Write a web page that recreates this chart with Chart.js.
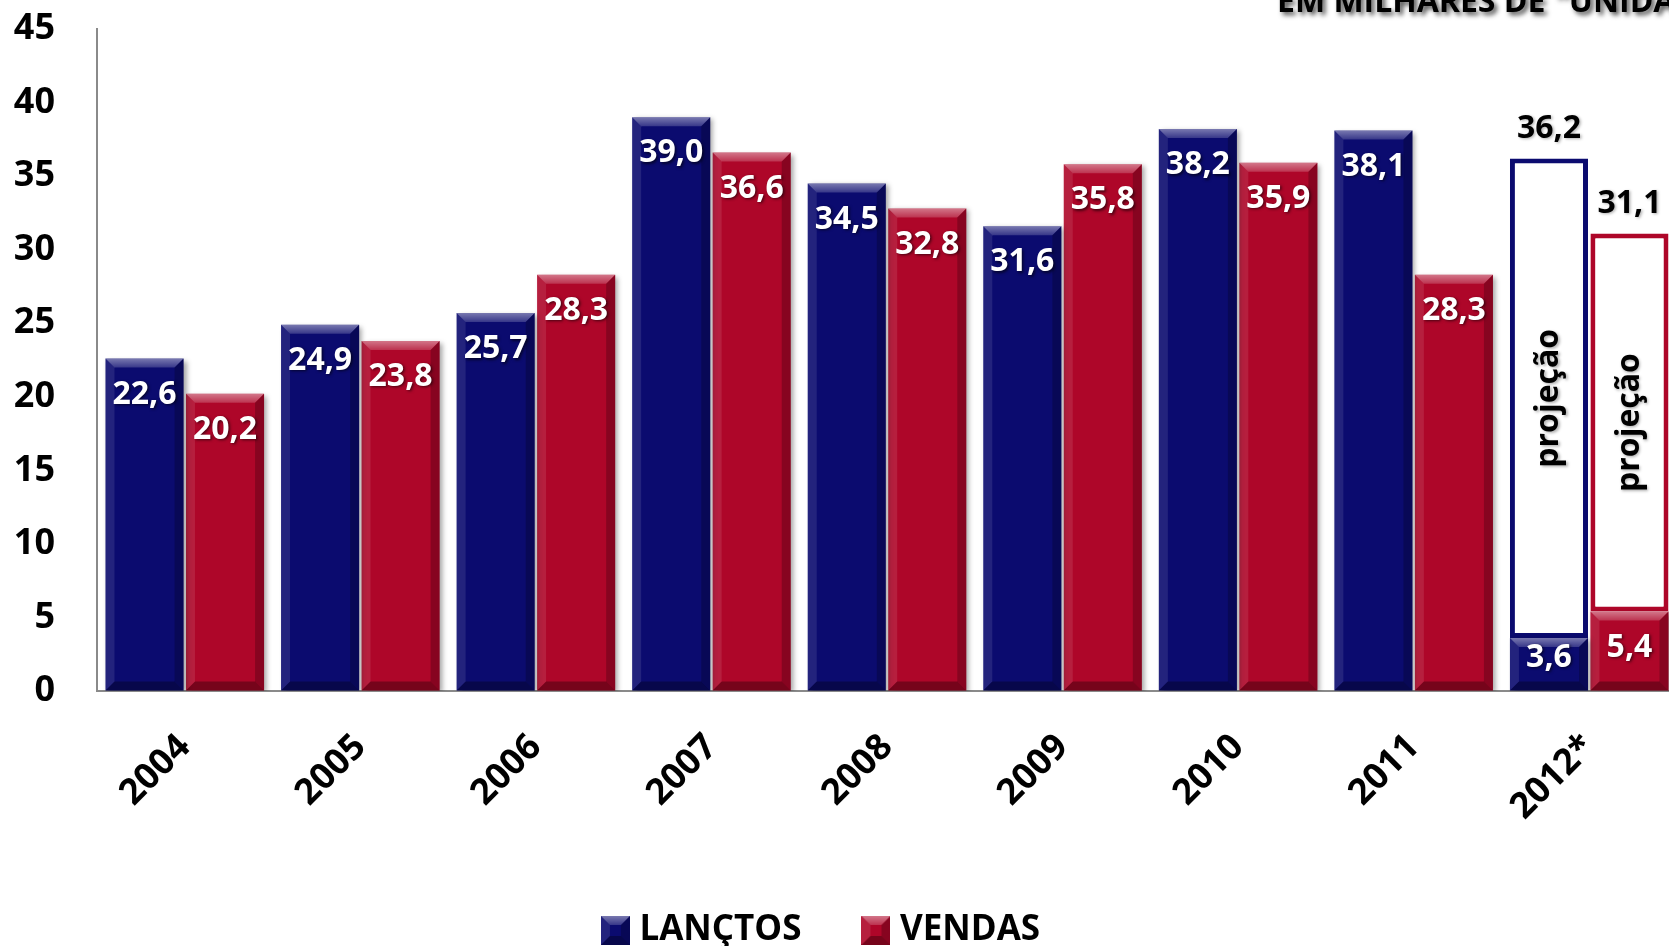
<!DOCTYPE html>
<html lang="pt-BR">
<head>
<meta charset="UTF-8">
<title>Lançamentos e vendas</title>
<style>
  html, body { margin: 0; padding: 0; background: #fff; overflow: hidden; }
  .chart-box { position: relative; width: 1705px; height: 946px; margin-left: -28px; }
</style>
</head>
<body>
<div class="chart-box"><canvas id="vendasChart"></canvas></div>

<script src="https://cdn.jsdelivr.net/npm/chart.js"></script>
<script>
// em milhares de unidades
const anos = ['2004', '2005', '2006', '2007', '2008', '2009', '2010', '2011', '2012*'];
const lancamentos = [22.6, 24.9, 25.7, 39.0, 34.5, 31.6, 38.2, 38.1, 3.6];
const vendas = [20.2, 23.8, 28.3, 36.6, 32.8, 35.8, 35.9, 28.3, 5.4];
// total projetado para 2012
const projLancamentos = [null, null, null, null, null, null, null, null, 36.2];
const projVendas = [null, null, null, null, null, null, null, null, 31.1];
const yTicks = [0, 5, 10, 15, 20, 25, 30, 35, 40, 45];

const AZUL = '#0b0b6f';
const VERMELHO = '#ae0629';
const FONTE = "'Open Sans', sans-serif";

Chart.defaults.font.family = FONTE;

const fmt = v => v.toFixed(1).replace('.', ',');
// parte da projeção que fica acima do realizado
const resto = (proj, real) => proj.map((v, i) => v == null ? null : +(v - real[i]).toFixed(1));

function poly(ctx, pts, fill) {
    ctx.beginPath();
    ctx.moveTo(pts[0][0], pts[0][1]);
    for (let i = 1; i < pts.length; i++) ctx.lineTo(pts[i][0], pts[i][1]);
    ctx.closePath();
    ctx.fillStyle = fill;
    ctx.fill();
}

// faces do chanfro sobre um retângulo
function chanfrar(ctx, l, t, r, b, s) {
    const topo = ctx.createLinearGradient(0, t, 0, t + s);
    topo.addColorStop(0, 'rgba(255,255,255,0.45)');
    topo.addColorStop(1, 'rgba(255,255,255,0.18)');
    poly(ctx, [[l, t], [r, t], [r - s, t + s], [l + s, t + s]], topo);
    poly(ctx, [[l, t], [l + s, t + s], [l + s, b - s], [l, b]], 'rgba(255,255,255,0.10)');
    poly(ctx, [[r, t], [r, b], [r - s, b - s], [r - s, t + s]], 'rgba(0,0,0,0.22)');
    poly(ctx, [[l, b], [r, b], [r - s, b - s], [l + s, b - s]], 'rgba(0,0,0,0.32)');
}

function amostra(cor) {
    const c = document.createElement('canvas');
    c.width = 29; c.height = 29;
    const g = c.getContext('2d');
    g.fillStyle = cor;
    g.fillRect(0, 0, 29, 29);
    chanfrar(g, 0, 0, 29, 29, 9);
    return c;
}
const amostras = [amostra(AZUL), null, amostra(VERMELHO)];

const sombraBarras = {
    id: 'sombraBarras',
    beforeDatasetDraw(chart, args) {
        if (args.index !== 0 && args.index !== 2) return;
        const ctx = chart.ctx;
        ctx.save();
        ctx.shadowColor = 'rgba(0,0,0,0.35)';
        ctx.shadowBlur = 5;
        ctx.shadowOffsetX = 3;
        ctx.shadowOffsetY = 2;
    },
    afterDatasetDraw(chart, args) {
        if (args.index !== 0 && args.index !== 2) return;
        chart.ctx.restore();
    }
};

const chanfro = {
    id: 'chanfro',
    afterDatasetsDraw(chart) {
        const ctx = chart.ctx;
        ctx.save();
        [0, 2].forEach(di => {
            chart.getDatasetMeta(di).data.forEach(bar => {
                const {x, y, base, width} = bar.getProps(['x', 'y', 'base', 'width'], true);
                const l = x - width / 2, r = x + width / 2;
                const t = Math.min(y, base), b = Math.max(y, base);
                chanfrar(ctx, l, t, r, b, Math.min(9, (b - t) / 2));
            });
        });
        ctx.restore();
    }
};

const rotulos = {
    id: 'rotulos',
    afterDatasetsDraw(chart) {
        const ctx = chart.ctx;
        ctx.save();
        ctx.textAlign = 'center';
        ctx.textBaseline = 'middle';
        ctx.font = 'bold 32px ' + FONTE;
        ctx.shadowColor = 'rgba(0,0,0,0.6)';
        ctx.shadowBlur = 3;
        ctx.shadowOffsetX = 1.5;
        ctx.shadowOffsetY = 1.5;
        ctx.fillStyle = '#fff';
        [[0, lancamentos], [2, vendas]].forEach(([di, valores]) => {
            chart.getDatasetMeta(di).data.forEach((bar, i) => {
                const {x, y, base} = bar.getProps(['x', 'y', 'base'], true);
                ctx.fillText(fmt(valores[i]), x, Math.min(y + 36, base - 33));
            });
        });

        ctx.shadowColor = 'rgba(0,0,0,0.3)';
        ctx.fillStyle = '#000';
        [[1, projLancamentos], [3, projVendas]].forEach(([di, totais]) => {
            chart.getDatasetMeta(di).data.forEach((bar, i) => {
                if (totais[i] == null) return;
                const {x, y, base} = bar.getProps(['x', 'y', 'base'], true);
                ctx.font = 'bold 32px ' + FONTE;
                ctx.fillText(fmt(totais[i]), x, y - 30);
                ctx.save();
                ctx.translate(x, (y + base) / 2);
                ctx.rotate(-Math.PI / 2);
                ctx.font = 'bold 32px ' + FONTE;
                ctx.fillText('projeção', 0, 0);
                ctx.restore();
            });
        });
        ctx.restore();
    }
};

const titulo = {
    id: 'titulo',
    afterDraw(chart) {
        const ctx = chart.ctx;
        ctx.save();
        ctx.font = 'bold 32px ' + FONTE;
        ctx.textAlign = 'left';
        ctx.textBaseline = 'alphabetic';
        ctx.shadowColor = 'rgba(0,0,0,0.7)';
        ctx.shadowBlur = 5;
        ctx.shadowOffsetX = 3;
        ctx.shadowOffsetY = 3;
        ctx.fillStyle = '#000';
        ctx.fillText('EM MILHARES DE "UNIDADES"', 1305, 12);
        ctx.restore();
    }
};

const tickFont = {family: FONTE, weight: 'bold', size: 36};

new Chart(document.getElementById('vendasChart'), {
    type: 'bar',
    data: {
        labels: anos,
        datasets: [
            {label: 'LANÇTOS', data: lancamentos, backgroundColor: AZUL, stack: 'lanc'},
            {label: 'LANÇTOS projeção', data: resto(projLancamentos, lancamentos), backgroundColor: '#fff',
             borderColor: AZUL, borderWidth: 5, borderSkipped: false, stack: 'lanc'},
            {label: 'VENDAS', data: vendas, backgroundColor: VERMELHO, stack: 'vend'},
            {label: 'VENDAS projeção', data: resto(projVendas, vendas), backgroundColor: '#fff',
             borderColor: VERMELHO, borderWidth: 5, borderSkipped: false, stack: 'vend'}
        ]
    },
    options: {
        responsive: true,
        maintainAspectRatio: false,
        animation: false,
        categoryPercentage: 0.917,
        barPercentage: 0.97,
        layout: {padding: {top: 29, left: 0, right: 0, bottom: 0}},
        plugins: {
            tooltip: {enabled: false},
            legend: {
                position: 'bottom',
                maxHeight: 101,
                labels: {
                    usePointStyle: true,
                    pointStyleWidth: 13,
                    padding: 68,
                    color: '#000',
                    font: {family: FONTE, weight: 'bold', size: 35},
                    generateLabels: chart => [0, 2].map(i => ({
                        text: chart.data.datasets[i].label,
                        pointStyle: amostras[i],
                        fillStyle: chart.data.datasets[i].backgroundColor,
                        lineWidth: 0,
                        hidden: false,
                        datasetIndex: i
                    }))
                }
            }
        },
        scales: {
            x: {
                stacked: true,
                grid: {display: false},
                border: {display: true, color: '#8a8a8a', width: 2},
                ticks: {color: '#000', font: tickFont, maxRotation: 45, minRotation: 45, padding: 27},
                afterFit: s => { s.height = 154; }
            },
            y: {
                stacked: true,
                min: 0,
                max: 45,
                // marcas invisíveis só para afastar os rótulos do eixo
                grid: {drawOnChartArea: false, drawTicks: true, tickLength: 42, color: 'rgba(0,0,0,0)'},
                border: {display: true, color: '#8a8a8a', width: 2},
                ticks: {color: '#000', font: tickFont, padding: 0},
                afterBuildTicks: s => { s.ticks = yTicks.map(v => ({value: v})); },
                afterFit: s => { s.width = 125; }
            }
        }
    },
    plugins: [sombraBarras, chanfro, rotulos, titulo]
});
</script>
</body>
</html>
